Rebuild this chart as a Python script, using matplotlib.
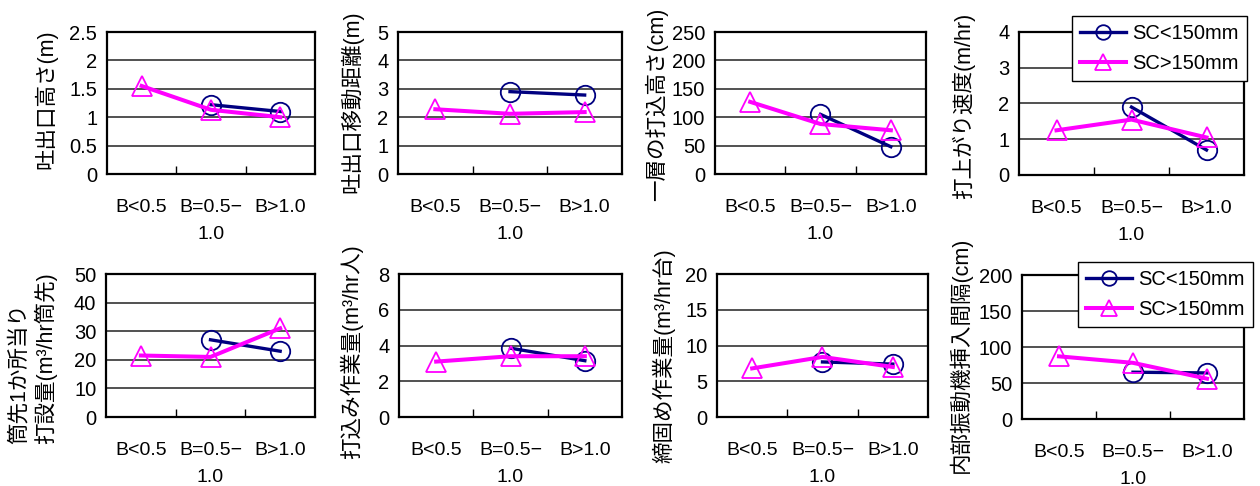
import numpy as np
import matplotlib
matplotlib.use('Agg')
import matplotlib.pyplot as plt
from matplotlib.ticker import MultipleLocator, FixedLocator

plt.rcParams['font.family'] = ['Liberation Sans', 'Noto Sans CJK JP']
plt.rcParams['font.size'] = 14

W, H = 1260, 486

# ─── Data ────────────────────────────────────────────────────────────────────
categories = ['B<0.5', 'B=0.5−\n1.0', 'B>1.0']
series_names = ['SC<150mm', 'SC>150mm']

ylabels = [
    '吐出口高さ(m)', '吐出口移動距離(m)', '一層の打込高さ(cm)', '打上がり速度(m/hr)',
    '筒先1か所当り\n打設量(m³/hr筒先)', '打込み作業量(m³/hr人)',
    '締固め作業量(m³/hr台)', '内部振動機挿入間隔(cm)',
]
ymax  = [2.5, 5, 250, 4, 50, 8, 20, 200]
ystep = [0.5, 1, 50, 1, 10, 2, 5, 50]

sc_small = [
    [np.nan, 1.22, 1.10],
    [np.nan, 2.90, 2.78],
    [np.nan, 105, 48],
    [np.nan, 1.90, 0.70],
    [np.nan, 27.0, 23.0],
    [np.nan, 3.85, 3.15],
    [np.nan, 7.7, 7.4],
    [np.nan, 65, 64],
]
sc_large = [
    [1.55, 1.13, 1.00],
    [2.28, 2.12, 2.18],
    [127, 88, 77],
    [1.25, 1.55, 1.05],
    [21.5, 21.0, 31.0],
    [3.10, 3.40, 3.40],
    [6.8, 8.4, 7.0],
    [87, 78, 56],
]

# axes boxes in pixels: (left, top, right, bottom)
boxes = [
    (107, 32, 315, 174), (398, 32, 622, 174), (715, 32, 926, 174), (1019, 32, 1244, 175),
    (106, 274, 315, 417), (399, 274, 622, 417), (717, 274, 928, 417), (1022, 275, 1244, 419),
]
# y-label centres in pixels
label_pos = [(46, 99), (352, 102), (657, 104), (964, 106),
             (33, 358), (352, 352), (664, 356), (960, 355)]
legend_anchor = {3: (1247, 16), 7: (1253, 262)}

NAVY, MAG = '#000080', '#FF00FF'

fig = plt.figure(figsize=(W / 100, H / 100), dpi=100)

x = np.arange(3) + 0.5
for i, (l, t, r, b) in enumerate(boxes):
    ax = fig.add_axes([l / W, 1 - b / H, (r - l) / W, (b - t) / H])
    l1, = ax.plot(x, sc_small[i], color=NAVY, lw=2.4, marker='o', ms=14,
                  mfc='none', mec=NAVY, mew=1.3, label=series_names[0], zorder=3)
    l2, = ax.plot(x, sc_large[i], color=MAG, lw=2.9, marker='^', ms=15,
                  mfc='none', mec=MAG, mew=1.3, label=series_names[1], zorder=4)
    ax.set_xlim(0, 3)
    ax.set_ylim(0, ymax[i])
    ax.yaxis.set_major_locator(MultipleLocator(ystep[i]))
    ax.yaxis.grid(True, color='#222222', lw=1.1)
    ax.set_axisbelow(True)
    ax.set_xticks(x)
    ax.set_xticklabels(categories)
    ax.xaxis.set_minor_locator(FixedLocator([1, 2]))
    ax.tick_params(axis='x', which='major', length=0, pad=18, labelsize=14)
    ax.tick_params(axis='x', which='minor', length=6, direction='in', width=1)
    ax.tick_params(axis='y', length=0, pad=7, labelsize=14.5)
    for lab in ax.get_xticklabels():
        lab.set_linespacing(1.75)
    ax.set_yticklabels([('%g' % v) for v in ax.get_yticks()])
    for s in ax.spines.values():
        s.set_linewidth(1.6)
        s.set_color('black')
    lx, ly = label_pos[i]
    fig.text(lx / W, 1 - ly / H, ylabels[i], rotation=90, ha='center', va='center',
             multialignment='left', fontsize=15.5, linespacing=1.25)
    if i in legend_anchor:
        ax_, ay_ = legend_anchor[i]
        ax.legend(handles=[l1, l2], loc='upper right',
                  bbox_to_anchor=(ax_ / W, 1 - ay_ / H), bbox_transform=fig.transFigure,
                  fancybox=False, framealpha=1, edgecolor='black', fontsize=14.5,
                  handlelength=2.3, handletextpad=0.3, markerscale=0.75,
                  borderpad=0.4, labelspacing=0.55, borderaxespad=0)

fig.savefig('out.png', dpi=100)
